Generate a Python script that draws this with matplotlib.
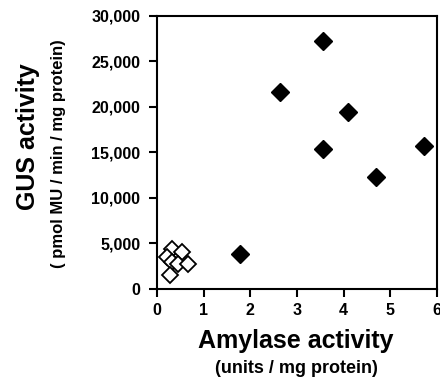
import matplotlib
matplotlib.use('Agg')
import matplotlib.pyplot as plt
from matplotlib.ticker import FuncFormatter

plt.rcParams['font.family'] = ['Liberation Sans', 'DejaVu Sans']
plt.rcParams['font.weight'] = 'bold'

# filled diamonds
amylase_filled = [1.78, 2.63, 3.55, 3.55, 4.1, 4.69, 5.72]
gus_filled = [3850, 21600, 27200, 15400, 19400, 12300, 15700]
# open diamonds
amylase_open = [0.33, 0.53, 0.22, 0.31, 0.44, 0.66, 0.28]
gus_open = [4350, 4100, 3550, 3000, 2800, 2800, 1550]

fig = plt.figure(figsize=(4.4, 3.8), dpi=100)
ax = fig.add_axes([0.357, 0.2395, 0.636, 0.7185])

ax.plot(amylase_open, gus_open, 'D', ms=8, mfc='white', mec='black', mew=1.3, ls='none')
ax.plot(amylase_filled, gus_filled, 'D', ms=9, mfc='black', mec='black', ls='none')

ax.set_xlim(0, 6)
ax.set_ylim(0, 30000)
ax.set_xticks(range(0, 7))
ax.set_yticks(range(0, 30001, 5000))
ax.yaxis.set_major_formatter(FuncFormatter(lambda v, p: f'{int(v):,}'))
ax.tick_params(direction='out', length=6, width=1.5, labelsize=11.5)
ax.tick_params(axis='y', pad=6)
ax.tick_params(axis='x', pad=4)
for lbl in ax.get_xticklabels() + ax.get_yticklabels():
    lbl.set_fontweight('bold')
for s in ax.spines.values():
    s.set_linewidth(1.5)

fig.text(0.673, 0.103, 'Amylase activity', ha='center', va='center', fontsize=18, fontweight='bold')
fig.text(0.673, 0.029, '(units / mg protein)', ha='center', va='center', fontsize=13, fontweight='bold')
fig.text(0.064, 0.64, 'GUS activity', ha='center', va='center', rotation=90, fontsize=18, fontweight='bold')
fig.text(0.134, 0.597, '( pmol MU / min / mg protein)', ha='center', va='center', rotation=90, fontsize=12, fontweight='bold')

plt.savefig('out.png', dpi=100)
